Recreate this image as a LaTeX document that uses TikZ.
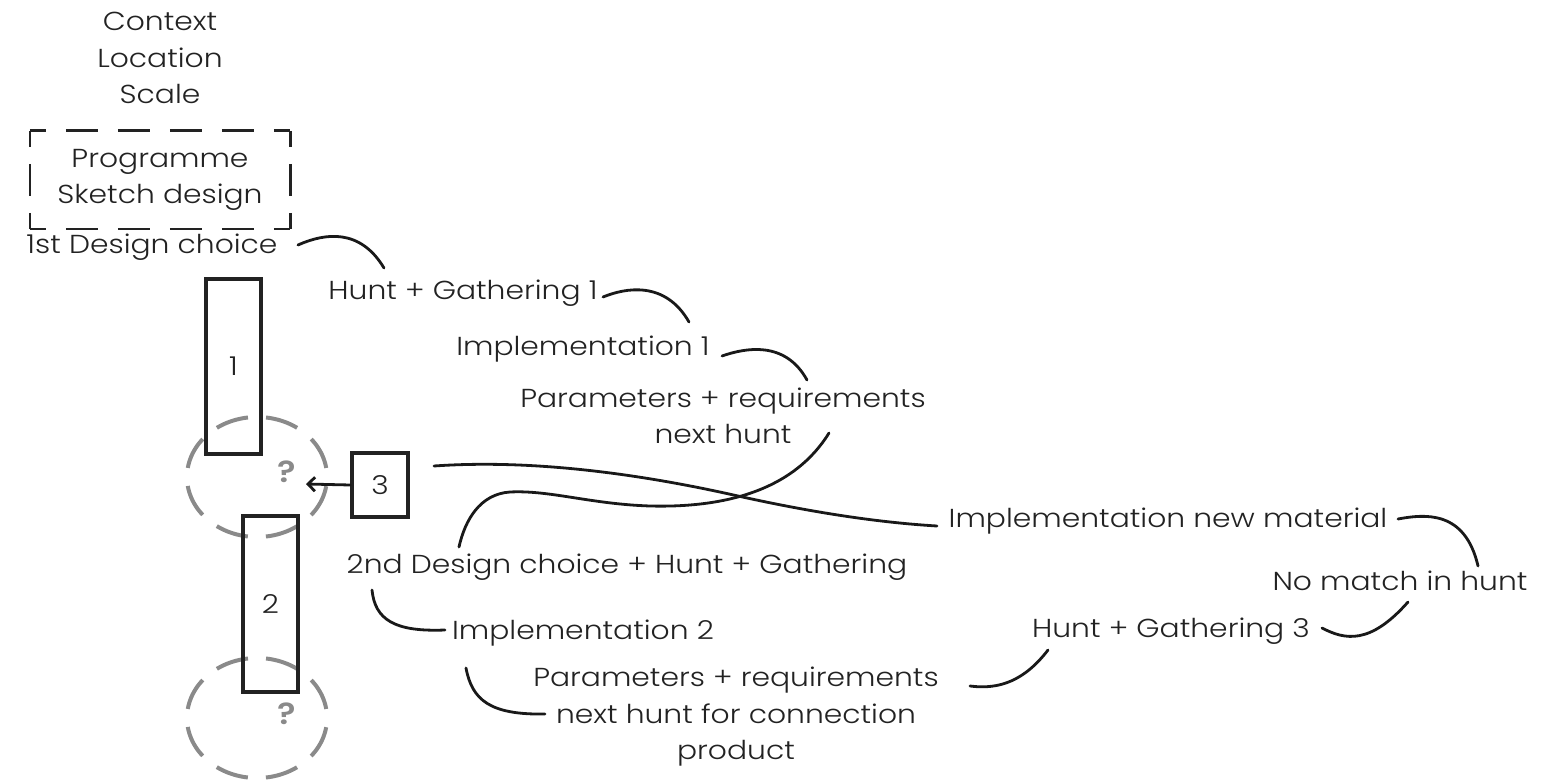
\documentclass[tikz,border=0pt]{standalone}
\usepackage{fontspec}
\setmainfont{Poppins}[UprightFont = * Light, BoldFont = * SemiBold, FakeStretch = 1.145]
\usetikzlibrary{arrows.meta,shapes.geometric}
\definecolor{ink}{HTML}{222222}
\definecolor{ring}{HTML}{8A8A8A}
\tikzset{
  lbl/.style={inner sep=0pt, align=center, text=ink,
    font=\fontsize{26}{36.5}\selectfont},
  bar/.style={draw=ink, line width=3.5pt, inner sep=0pt},
  link/.style={draw=black!90, line width=2.8pt, line cap=round},
  ringstyle/.style={draw=ring, line width=4pt, ellipse, minimum width=140pt,
    minimum height=120pt, dash pattern=on 33pt off 18.1pt, dash phase=42pt},
  hsides/.style={draw=ink, line width=2.6pt, dash pattern=on 32pt off 20pt, dash phase=16pt},
  vsides/.style={draw=ink, line width=2.6pt, dash pattern=on 32pt off 17pt, dash phase=16pt},
  qmark/.style={inner sep=0pt, text=ring, font=\fontsize{30}{34}\selectfont\bfseries}
}
\begin{document}
\begin{tikzpicture}[x=1pt,y=-1pt]
\useasboundingbox (0,0) rectangle (1560,783);

% brief and programme
\node[lbl] (ctx) at (160,58) {Context\\Location\\Scale};
\node[lbl, minimum width=260pt, minimum height=98pt] (prog) at (160,180) {Programme\\Sketch design};
\draw[hsides] (prog.north west) -- (prog.north east);
\draw[hsides] (prog.south west) -- (prog.south east);
\draw[vsides] (prog.north west) -- (prog.south west);
\draw[vsides] (prog.north east) -- (prog.south east);
\node[lbl] (first) at (152,247) {1st Design choice};

% open questions
\node[ringstyle] (q1) at (257,477) {};
\node[ringstyle] (q2) at (257,718) {};
\node[qmark] at (287,472) {?};
\node[qmark] at (287,714) {?};

% design steps
\node[bar, minimum width=55pt, minimum height=175pt] (s1) at (233.5,366.5) {};
\node[lbl] at (s1) {1};
\node[bar, minimum width=55pt, minimum height=176pt] (s2) at (270.5,604) {};
\node[lbl] at (s2) {2};
\node[bar, minimum width=56pt, minimum height=64pt, lbl] (s3) at (380,485) {3};
\coordinate (q1in) at (306,484);
\draw[link, -{Straight Barb[length=7pt,width=14pt,line width=2.8pt]}] (s3.west) -- (q1in);

% process labels
\node[lbl] (hg1) at (463,293) {Hunt + Gathering 1};
\node[lbl] (imp1) at (583,349) {Implementation 1};
\node[lbl] (par1) at (723,416) {Parameters + requirements\\next hunt};
\node[lbl] (second) at (627,567) {2nd Design choice + Hunt + Gathering};
\node[lbl] (imp2) at (583,633) {Implementation 2};
\node[lbl] (par2) at (736,717) {Parameters + requirements\\next hunt for connection\\product};
\node[lbl] (impnew) at (1168,521) {Implementation new material};
\node[lbl] (nomatch) at (1400,581) {No match in hunt};
\node[lbl] (hg3) at (1171,631) {Hunt + Gathering 3};

% connector end points
\coordinate (a1) at (298,245);  \coordinate (a2) at (384,268);
\coordinate (b1) at (603,297);  \coordinate (b2) at (689,322);
\coordinate (c1) at (722,356);  \coordinate (c2) at (807,380);
\coordinate (d1) at (829,433);  \coordinate (d2) at (459,547);
\coordinate (e1) at (434,466);  \coordinate (e2) at (937,526);
\coordinate (f1) at (1398,519); \coordinate (f2) at (1478,566);
\coordinate (g1) at (1322,628); \coordinate (g2) at (1408,602);
\coordinate (h1) at (970,686);  \coordinate (h2) at (1048,650);
\coordinate (i1) at (466,668);  \coordinate (i2) at (545,714);
\coordinate (j1) at (372,590);  \coordinate (j2) at (445,630);

% connectors
\draw[link] (a1) .. controls (325,233) and (360,228) .. (a2);
\draw[link] (b1) .. controls (625,288) and (665,280) .. (b2);
\draw[link] (c1) .. controls (745,348) and (785,340) .. (c2);
\draw[link] (d1) .. controls (795,488) and (730,508) .. (650,506)
                 .. controls (590,504) and (550,490) .. (510,492)
                 .. controls (480,494) and (465,520) .. (d2);
\draw[link] (e1) .. controls (520,460) and (620,470) .. (729,494)
                 .. controls (800,510) and (870,522) .. (e2);
\draw[link] (f1) .. controls (1425,514) and (1465,510) .. (f2);
\draw[link] (g1) .. controls (1345,640) and (1370,645) .. (g2);
\draw[link] (h1) .. controls (1000,690) and (1025,680) .. (h2);
\draw[link] (i1) .. controls (472,700) and (490,715) .. (i2);
\draw[link] (j1) .. controls (375,620) and (395,632) .. (j2);
\end{tikzpicture}
\end{document}
